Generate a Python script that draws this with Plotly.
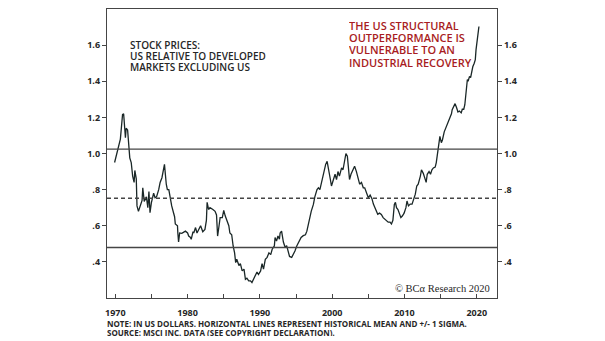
import plotly.graph_objects as go

# US vs developed ex-US relative stock price index (decimal years)
years = [
    1969.9, 1970.2, 1970.5, 1970.7, 1971.0, 1971.15, 1971.4, 1971.5, 1971.7, 1972.0,
    1972.2, 1972.4, 1972.6, 1972.7, 1972.9, 1973.0, 1973.2, 1973.5, 1973.7, 1973.8,
    1974.0, 1974.3, 1974.5, 1974.65, 1974.8, 1975.0, 1975.3, 1975.5, 1975.7, 1976.0,
    1976.2, 1976.45, 1976.7, 1976.8, 1977.05, 1977.2, 1977.4, 1977.6, 1977.8, 1978.05,
    1978.2, 1978.3, 1978.6, 1978.65, 1978.75, 1978.9, 1979.2, 1979.7, 1980.0, 1980.15,
    1980.4, 1980.5, 1980.75, 1980.85, 1981.1, 1981.3, 1981.6, 1981.8, 1982.1, 1982.4,
    1982.6, 1982.7, 1982.9, 1983.1, 1983.5, 1983.8, 1984.0, 1984.1, 1984.15, 1984.35,
    1984.5, 1984.8, 1985.0, 1985.2, 1985.5, 1985.7, 1985.85, 1986.1, 1986.3, 1986.5,
    1986.65, 1986.8, 1987.1, 1987.3, 1987.55, 1987.8, 1988.0, 1988.2, 1988.45, 1988.7,
    1988.9, 1989.1, 1989.35, 1989.6, 1989.8, 1990.1, 1990.3, 1990.5, 1990.75, 1991.0,
    1991.25, 1991.5, 1991.7, 1992.0, 1992.1, 1992.3, 1992.5, 1992.7, 1992.8, 1993.0,
    1993.25, 1993.5, 1993.7, 1993.95, 1994.1, 1994.4, 1994.6, 1994.85, 1995.1, 1995.4,
    1995.7, 1996.0, 1996.3, 1996.5, 1996.7, 1996.95, 1997.1, 1997.4, 1997.6, 1997.9,
    1998.1, 1998.3, 1998.45, 1998.7, 1998.9, 1999.1, 1999.3, 1999.5, 1999.75, 1999.9,
    2000.2, 2000.4, 2000.6, 2000.8, 2001.0, 2001.3, 2001.5, 2001.9, 2002.1, 2002.3,
    2002.4, 2002.6, 2002.9, 2003.1, 2003.35, 2003.55, 2003.8, 2004.05, 2004.3, 2004.5,
    2004.8, 2005.0, 2005.25, 2005.5, 2005.7, 2005.9, 2006.1, 2006.3, 2006.55, 2006.8,
    2007.05, 2007.3, 2007.5, 2007.75, 2008.0, 2008.2, 2008.4, 2008.6, 2008.75, 2008.9,
    2009.1, 2009.3, 2009.5, 2009.7, 2009.95, 2010.2, 2010.35, 2010.55, 2010.8, 2011.05,
    2011.3, 2011.5, 2011.7, 2011.9, 2012.2, 2012.35, 2012.6, 2012.8, 2013.0, 2013.15,
    2013.4, 2013.6, 2013.8, 2014.0, 2014.25, 2014.4, 2014.6, 2014.75, 2014.9, 2015.1,
    2015.25, 2015.5, 2015.7, 2015.9, 2016.1, 2016.3, 2016.5, 2016.6, 2016.8, 2017.0,
    2017.2, 2017.4, 2017.6, 2017.85, 2018.0, 2018.2, 2018.35, 2018.5, 2018.7, 2018.8,
    2019.0, 2019.15, 2019.3, 2019.45, 2019.65, 2019.8, 2019.9, 2020.05, 2020.2, 2020.3,
]
ratio = [
    0.95, 1.00, 1.06, 1.08, 1.215, 1.22, 1.087, 1.14, 1.13, 0.976,
    0.95, 0.875, 0.84, 0.906, 0.86, 0.71, 0.68, 0.71, 0.74, 0.81,
    0.735, 0.76, 0.70, 0.79, 0.672, 0.73, 0.78, 0.755, 0.76, 0.80,
    0.84, 0.866, 0.93, 0.94, 0.83, 0.80, 0.80, 0.746, 0.71, 0.672,
    0.65, 0.61, 0.60, 0.56, 0.51, 0.56, 0.558, 0.57, 0.56, 0.543,
    0.535, 0.525, 0.567, 0.56, 0.59, 0.56, 0.58, 0.60, 0.567, 0.58,
    0.63, 0.73, 0.69, 0.70, 0.69, 0.68, 0.66, 0.60, 0.543, 0.60,
    0.645, 0.645, 0.685, 0.655, 0.62, 0.60, 0.56, 0.55, 0.488, 0.45,
    0.396, 0.415, 0.38, 0.39, 0.35, 0.36, 0.304, 0.31, 0.295, 0.295,
    0.286, 0.304, 0.32, 0.344, 0.33, 0.35, 0.39, 0.36, 0.414, 0.425,
    0.45, 0.44, 0.47, 0.488, 0.535, 0.515, 0.543, 0.525, 0.56, 0.57,
    0.51, 0.48, 0.49, 0.45, 0.43, 0.425, 0.44, 0.46, 0.488, 0.51,
    0.535, 0.545, 0.55, 0.57, 0.61, 0.663, 0.68, 0.718, 0.76, 0.80,
    0.81, 0.80, 0.83, 0.875, 0.92, 0.94, 0.957, 0.90, 0.856, 0.82,
    0.865, 0.885, 0.855, 0.90, 0.875, 0.92, 0.91, 1.00, 0.985, 0.89,
    0.856, 0.885, 0.91, 0.93, 0.90, 0.865, 0.83, 0.84, 0.81, 0.81,
    0.775, 0.755, 0.77, 0.75, 0.72, 0.70, 0.68, 0.663, 0.67, 0.663,
    0.645, 0.635, 0.63, 0.62, 0.62, 0.61, 0.63, 0.718, 0.73, 0.70,
    0.69, 0.663, 0.645, 0.654, 0.67, 0.70, 0.737, 0.71, 0.72, 0.72,
    0.746, 0.775, 0.82, 0.83, 0.875, 0.91, 0.89, 0.865, 0.84, 0.885,
    0.90, 0.885, 0.91, 0.92, 0.925, 0.95, 1.013, 1.068, 1.095, 1.06,
    1.075, 1.12, 1.14, 1.16, 1.18, 1.20, 1.22, 1.243, 1.26, 1.276,
    1.255, 1.23, 1.235, 1.225, 1.245, 1.245, 1.27, 1.335, 1.41, 1.40,
    1.427, 1.42, 1.464, 1.48, 1.50, 1.52, 1.575, 1.63, 1.685, 1.703,
]

# historical mean and +/- 1 standard deviation
hist_mean = 0.752
hist_sigma = 0.272

x_range = [1968.85, 2022.8]
y_range = [0.2, 1.8]

y_tickvals = [0.4, 0.6, 0.8, 1.0, 1.2, 1.4, 1.6]
y_ticktext = [".4", ".6", ".8", "1.0", "1.2", "1.4", "1.6"]
x_tickvals = [1970, 1980, 1990, 2000, 2010, 2020]

title_lines = ["STOCK PRICES:", "US RELATIVE TO DEVELOPED", "MARKETS EXCLUDING US"]
callout_lines = ["THE US STRUCTURAL", "OUTPERFORMANCE IS", "VULNERABLE TO AN", "INDUSTRIAL RECOVERY"]
note_lines = [
    "NOTE: IN US DOLLARS. HORIZONTAL LINES REPRESENT HISTORICAL MEAN AND +/- 1 SIGMA.",
    "SOURCE: MSCI INC. DATA (SEE COPYRIGHT DECLARATION).",
]
credit = "© BCα Research 2020"

AXIS_COLOR = "#454545"
LINE_COLOR = "#1a2727"
TEXT_COLOR = "#262626"
RED = "#a81c22"
FONT = "Open Sans"

fig = go.Figure()

# reference lines (mean dashed, +/- 1 sigma solid) on the right-hand axis
band = [
    (hist_mean + hist_sigma, "solid"),
    (hist_mean, "dash"),
    (hist_mean - hist_sigma, "solid"),
]
for level, dash in band:
    fig.add_trace(go.Scatter(
        x=x_range, y=[level, level], yaxis="y2", mode="lines",
        line=dict(color=AXIS_COLOR, width=1.4, dash="4px,3px" if dash == "dash" else "solid"),
        hoverinfo="skip", showlegend=False,
    ))

fig.add_trace(go.Scatter(
    x=years, y=ratio, mode="lines",
    line=dict(color=LINE_COLOR, width=1.3),
    showlegend=False,
))

# plot area in pixels
L, R, T, B = 107, 497, 9, 298
W, H = 605, 341

def px_x(x):
    return (x - L) / (R - L)

def px_y(y):
    return (B - y) / (B - T)

def text_line(text, x, yc, font, box_h):
    return dict(
        text=text, xref="paper", yref="paper", x=px_x(x), y=px_y(yc),
        xanchor="left", yanchor="middle", showarrow=False,
        height=box_h, borderpad=0, valign="middle", font=font,
    )

annotations = []
for line, yc in zip(title_lines, [45.3, 56.2, 66.6]):
    annotations.append(text_line(
        line, 129, yc, dict(family=FONT, size=10, color=TEXT_COLOR, weight=600), 10))
for line, yc in zip(callout_lines, [24.5, 36.8, 49.2, 61.6]):
    annotations.append(text_line(
        line, 348, yc, dict(family=FONT, size=11, color=RED, weight=600), 12))
for line, yc in zip(note_lines, [323.3, 331.7]):
    annotations.append(text_line(
        line, 106, yc, dict(family=FONT, size=8, color=TEXT_COLOR, weight=700), 8))
annotations.append(dict(
    text=credit, xref="paper", yref="paper", x=px_x(492), y=px_y(288.3),
    xanchor="right", yanchor="middle", showarrow=False,
    font=dict(family="Liberation Serif", size=10.5, color=TEXT_COLOR),
))

tick_font = dict(family=FONT, size=9, color=TEXT_COLOR, weight=700)

fig.update_layout(
    width=W, height=H,
    margin=dict(l=L, r=W - R, t=T, b=H - B),
    paper_bgcolor="white", plot_bgcolor="white",
    xaxis=dict(
        range=x_range, showgrid=False, zeroline=False,
        showline=True, linecolor=AXIS_COLOR, linewidth=1.3, mirror=True,
        tickmode="array", tickvals=x_tickvals,
        ticks="inside", ticklen=4, tickcolor=AXIS_COLOR, tickwidth=1,
        minor=dict(dtick=5, tick0=1970, ticks="inside", ticklen=4,
                   tickcolor=AXIS_COLOR, tickwidth=1),
        tickfont=tick_font, ticklabelstandoff=6,
    ),
    yaxis=dict(
        range=y_range, showgrid=False, zeroline=False,
        showline=True, linecolor=AXIS_COLOR, linewidth=1.3,
        tickmode="array", tickvals=y_tickvals, ticktext=y_ticktext,
        ticks="outside", ticklen=4, tickcolor=AXIS_COLOR, tickwidth=1,
        tickfont=tick_font,
    ),
    yaxis2=dict(
        range=y_range, overlaying="y", side="right", showgrid=False, zeroline=False,
        showline=True, linecolor=AXIS_COLOR, linewidth=1.3,
        tickmode="array", tickvals=y_tickvals, ticktext=y_ticktext,
        ticks="outside", ticklen=4, tickcolor=AXIS_COLOR, tickwidth=1,
        tickfont=tick_font,
    ),
    annotations=annotations,
)

fig.write_html("out.html")
